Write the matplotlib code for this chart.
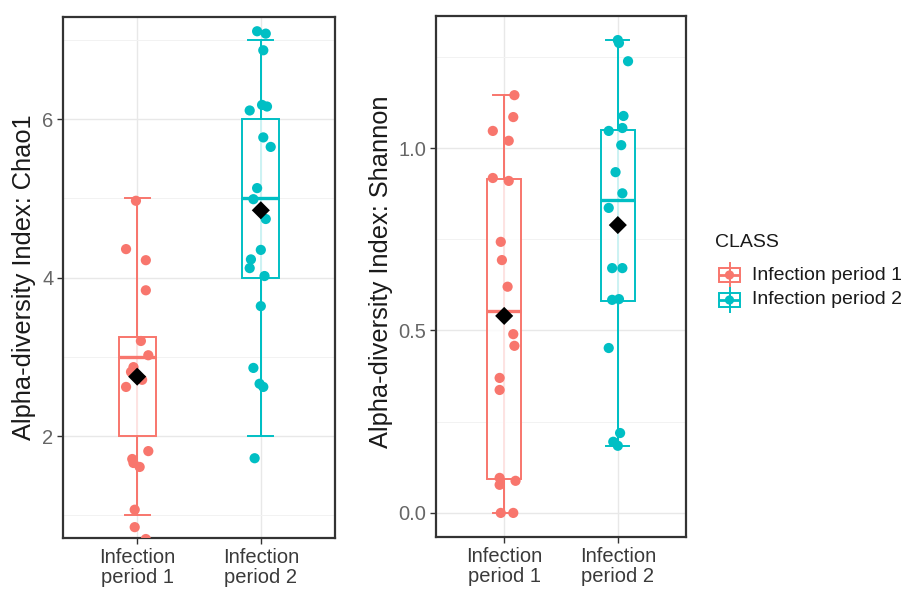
import numpy as np
import matplotlib.pyplot as plt
from matplotlib.ticker import FixedLocator
from matplotlib.patches import Rectangle

plt.rcParams['font.family'] = ['Liberation Sans', 'DejaVu Sans']

groups = ["Infection\nperiod 1", "Infection\nperiod 2"]
legend_labels = ["Infection period 1", "Infection period 2"]
colors = ["#F8766D", "#00BFC4"]

# Chao1: jittered sample points and their horizontal jitter
chao1_p1 = [4.97, 4.36, 4.22, 3.84, 3.20, 3.02, 2.87, 2.81, 2.71, 2.62,
            1.81, 1.71, 1.66, 1.61, 1.07, 0.85, 0.70]
chao1_p1_jit = [-0.01, -0.09, 0.07, 0.07, 0.03, 0.09, -0.03, -0.05, 0.04, -0.09,
                0.09, -0.04, -0.03, 0.02, -0.02, -0.02, 0.07]
chao1_p2 = [7.11, 7.08, 6.87, 6.18, 6.16, 6.11, 5.77, 5.65, 5.13, 4.99,
            4.74, 4.35, 4.23, 4.12, 4.02, 3.64, 2.86, 2.66, 2.62, 1.72]
chao1_p2_jit = [-0.03, 0.04, 0.02, 0.01, 0.05, -0.09, 0.02, 0.08, -0.03, -0.06,
                0.04, 0.00, -0.08, -0.09, 0.03, 0.00, -0.06, -0.01, 0.02, -0.05]
chao1_q1 = [2.0, 4.0]
chao1_med = [3.0, 5.0]
chao1_q3 = [3.25, 6.0]
chao1_lo = [1.0, 2.0]
chao1_hi = [5.0, 7.0]
chao1_mean = [2.75, 4.85]

# Shannon
shannon_p1 = [1.145, 1.085, 1.047, 1.02, 0.918, 0.91, 0.743, 0.693, 0.62, 0.49,
              0.458, 0.37, 0.337, 0.096, 0.088, 0.077, 0.0, 0.0]
shannon_p1_jit = [0.09, 0.08, -0.10, 0.04, -0.10, 0.04, -0.03, -0.02, 0.03, 0.08,
                  0.09, -0.04, -0.04, -0.04, 0.10, -0.04, -0.03, 0.08]
shannon_p2 = [1.296, 1.288, 1.238, 1.088, 1.055, 1.047, 1.008, 0.934, 0.876, 0.836,
              0.671, 0.671, 0.584, 0.586, 0.452, 0.219, 0.195, 0.184]
shannon_p2_jit = [0.00, 0.01, 0.09, 0.05, 0.04, -0.08, 0.03, -0.02, 0.04, -0.08,
                  -0.05, 0.04, -0.05, 0.01, -0.08, 0.02, -0.04, 0.00]
shannon_q1 = [0.093, 0.58]
shannon_med = [0.553, 0.858]
shannon_q3 = [0.915, 1.049]
shannon_lo = [0.0, 0.184]
shannon_hi = [1.145, 1.296]
shannon_mean = [0.54, 0.789]

W, H = 908, 593
fig = plt.figure(figsize=(W / 100, H / 100), dpi=100)


def px_axes(x0, y0, x1, y1):
    return fig.add_axes([x0 / W, 1 - y1 / H, (x1 - x0) / W, (y1 - y0) / H])


def panel(ax, pts, jit, q1, med, q3, lo, hi, mean, ylim, major, minor, labels):
    ax.set_xlim(0.4, 2.6)
    ax.set_ylim(*ylim)
    ax.xaxis.set_major_locator(FixedLocator([1, 2]))
    ax.set_xticklabels(groups, linespacing=1.1)
    ax.yaxis.set_major_locator(FixedLocator(major))
    ax.yaxis.set_minor_locator(FixedLocator(minor))
    ax.set_yticklabels(labels)
    ax.grid(which='major', color='#E8E8E8', lw=1.0, zorder=0)
    ax.grid(which='minor', axis='y', color='#F2F2F2', lw=0.7, zorder=0)
    ax.set_axisbelow(True)
    ax.tick_params(which='major', length=4, width=1, color='#333333', pad=3,
                   labelsize=14.5)
    ax.tick_params(axis='y', labelcolor='#666666')
    ax.tick_params(axis='x', labelcolor='#3A3A3A')
    ax.tick_params(which='minor', length=0)
    for s in ax.spines.values():
        s.set_color('#333333')
        s.set_linewidth(1.6)

    # errorbar line runs under the half-transparent box
    ax.vlines([1, 2], lo, hi, colors=colors, lw=1.4, zorder=2)
    stats = [dict(med=med[i], q1=q1[i], q3=q3[i], whislo=lo[i], whishi=hi[i],
                  fliers=[]) for i in range(2)]
    bp = ax.bxp(stats, positions=[1, 2], widths=0.3, capwidths=0.2,
                patch_artist=True, showfliers=False, manage_ticks=False, zorder=3)
    for i, c in enumerate(colors):
        bp['boxes'][i].set(facecolor=(1, 1, 1, 0.8), edgecolor=c, linewidth=1.4)
        for ln in bp['whiskers'][2 * i:2 * i + 2] + bp['caps'][2 * i:2 * i + 2]:
            ln.set(color=c, linewidth=1.4)
        bp['medians'][i].set(color=c, linewidth=2.4)

    for i in range(2):
        xs = (i + 1) + np.array(jit[i])
        ax.scatter(xs, pts[i], s=54, color=colors[i], edgecolors='none', zorder=4)
    ax.scatter([1, 2], mean, marker='D', s=85, color='black', edgecolors='none',
               zorder=5)


ax1 = px_axes(63, 17, 335, 538)
panel(ax1, [chao1_p1, chao1_p2], [chao1_p1_jit, chao1_p2_jit],
      chao1_q1, chao1_med, chao1_q3, chao1_lo, chao1_hi, chao1_mean,
      (0.713, 7.29), [2, 4, 6], [1, 3, 5, 7], ["2", "4", "6"])

ax2 = px_axes(436, 16, 686, 537)
panel(ax2, [shannon_p1, shannon_p2], [shannon_p1_jit, shannon_p2_jit],
      shannon_q1, shannon_med, shannon_q3, shannon_lo, shannon_hi, shannon_mean,
      (-0.066, 1.362), [0.0, 0.5, 1.0], [0.25, 0.75, 1.25], ["0.0", "0.5", "1.0"])

fig.text(24 / W, 1 - 277 / H, "Alpha-diversity Index: Chao1", rotation=90,
         ha='center', va='center', fontsize=18.3, color='#1A1A1A')
fig.text(381 / W, 1 - 272 / H, "Alpha-diversity Index: Shannon", rotation=90,
         ha='center', va='center', fontsize=18.3, color='#1A1A1A')

# legend
fig.text(715 / W, 1 - 243 / H, "CLASS", ha='left', va='center', fontsize=14,
         color='#1A1A1A')
for i, (lab, c) in enumerate(zip(legend_labels, colors)):
    yc = 275 + 25 * i
    kax = px_axes(717, yc - 13, 742, yc + 13)
    kax.set_xlim(0, 1)
    kax.set_ylim(0, 1)
    kax.axis('off')
    kax.vlines(0.5, 0.0, 1.0, colors=c, lw=1.4)
    kax.add_patch(Rectangle((0.08, 0.24), 0.84, 0.52, facecolor=(1, 1, 1, 0.8),
                            edgecolor=c, lw=1.4))
    kax.hlines(0.5, 0.08, 0.92, colors=c, lw=2.0)
    kax.scatter([0.5], [0.5], s=44, color=c, edgecolors='none', zorder=4)
    fig.text(752 / W, 1 - yc / H, lab, ha='left', va='center', fontsize=14,
             color='#1A1A1A')

fig.savefig('out.png', dpi=100)
